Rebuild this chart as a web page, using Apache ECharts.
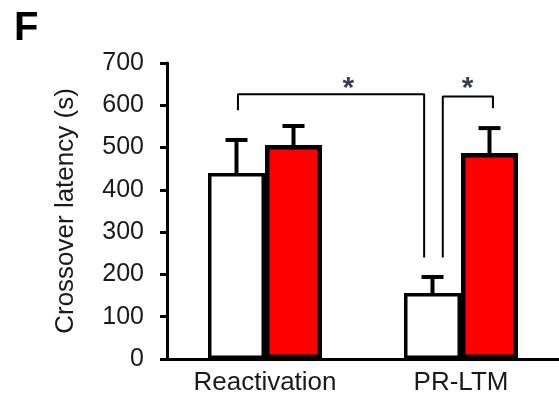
<!DOCTYPE html>
<html>
<head>
<meta charset="utf-8">
<script src="https://cdn.jsdelivr.net/npm/echarts@6/dist/echarts.min.js"></script>
<style>
  html, body { margin: 0; padding: 0; background: #fff; }
  #chart { width: 559px; height: 398px; }
</style>
</head>
<body>
<div id="chart"></div>
<script>
// 数据
var categories = ['Reactivation', 'PR-LTM']
var whiteMean = [440, 156]
var whiteErr = [78, 38]
var redMean = [506, 487]
var redErr = [45, 59]
var yTicks = [0, 100, 200, 300, 400, 500, 600, 700]
// brackets on a hidden 0..2 value axis (one unit per category)
var bracketA = [[0.362, 588], [0.362, 626], [1.312, 626], [1.312, 240]]
var bracketB = [[1.407, 240], [1.407, 621], [1.663, 621], [1.663, 593]]
var stars = [[0.925, 640], [1.533, 640]]

var BAR_W = 57
var font = 'Liberation Sans, Arial, sans-serif'

function errorSeries (name, means, errs, side) {
  return {
    name: name,
    type: 'custom',
    xAxisIndex: 0,
    yAxisIndex: 0,
    z: 5,
    data: means.map(function (m, i) { return [i, m, m + errs[i]] }),
    renderItem: function (params, api) {
      var base = api.coord([api.value(0), api.value(1)])
      var top = api.coord([api.value(0), api.value(2)])
      var x = base[0] + side * BAR_W / 2
      var style = { stroke: '#000', lineWidth: 4, fill: null }
      return {
        type: 'group',
        children: [
          { type: 'line', shape: { x1: x, y1: base[1], x2: x, y2: top[1] }, style: style },
          { type: 'line', shape: { x1: x - 11, y1: top[1], x2: x + 11, y2: top[1] }, style: style }
        ]
      }
    }
  }
}

var myChart = echarts.init(document.getElementById('chart'))
var option = {
  animation: false,
  title: {
    text: 'F',
    left: 9,
    top: 4,
    textStyle: { fontFamily: font, fontSize: 40, fontWeight: 'bold', color: '#000' }
  },
  grid: { left: 167, right: -5, top: 63, bottom: 39 },
  xAxis: [
    {
      type: 'category',
      data: categories,
      axisLine: { show: true, lineStyle: { color: '#000', width: 3 } },
      axisTick: { show: false },
      axisLabel: { color: '#1a1a1a', fontFamily: font, fontSize: 26, margin: 11 }
    },
    {
      type: 'value',
      min: 0,
      max: 2,
      show: false
    }
  ],
  yAxis: {
    type: 'value',
    min: 0,
    max: 700,
    interval: 100,
    name: 'Crossover latency (s)',
    nameLocation: 'middle',
    nameGap: 88,
    nameTextStyle: { color: '#1a1a1a', fontFamily: font, fontSize: 26 },
    axisLine: { show: true, lineStyle: { color: '#000', width: 3 } },
    axisTick: { show: true, length: 7, lineStyle: { color: '#000', width: 3 } },
    axisLabel: {
      color: '#1a1a1a',
      fontFamily: font,
      fontSize: 25,
      margin: 23,
      formatter: function (v) { return yTicks.indexOf(v) >= 0 ? String(v) : '' }
    },
    splitLine: { show: false }
  },
  series: [
    {
      name: 'control',
      type: 'bar',
      barWidth: BAR_W,
      barGap: '0%',
      data: whiteMean,
      itemStyle: { color: '#fff', borderColor: '#000', borderWidth: 3.5 }
    },
    {
      name: 'treated',
      type: 'bar',
      barWidth: BAR_W,
      barGap: '0%',
      data: redMean,
      itemStyle: { color: '#ff0000', borderColor: '#000', borderWidth: 4.5 }
    },
    errorSeries('control err', whiteMean, whiteErr, -1),
    errorSeries('treated err', redMean, redErr, 1),
    {
      name: 'bracketA',
      type: 'line',
      xAxisIndex: 1,
      data: bracketA,
      showSymbol: false,
      lineStyle: { color: '#000', width: 2 }
    },
    {
      name: 'bracketB',
      type: 'line',
      xAxisIndex: 1,
      data: bracketB,
      showSymbol: false,
      lineStyle: { color: '#000', width: 2 }
    },
    {
      name: 'stars',
      type: 'scatter',
      xAxisIndex: 1,
      data: stars,
      symbolSize: 0,
      label: {
        show: true,
        position: 'inside',
        formatter: '*',
        color: '#0d0d26',
        fontFamily: font,
        fontSize: 30,
        fontWeight: 'bold'
      }
    }
  ]
}
myChart.setOption(option, true)
</script>
</body>
</html>
